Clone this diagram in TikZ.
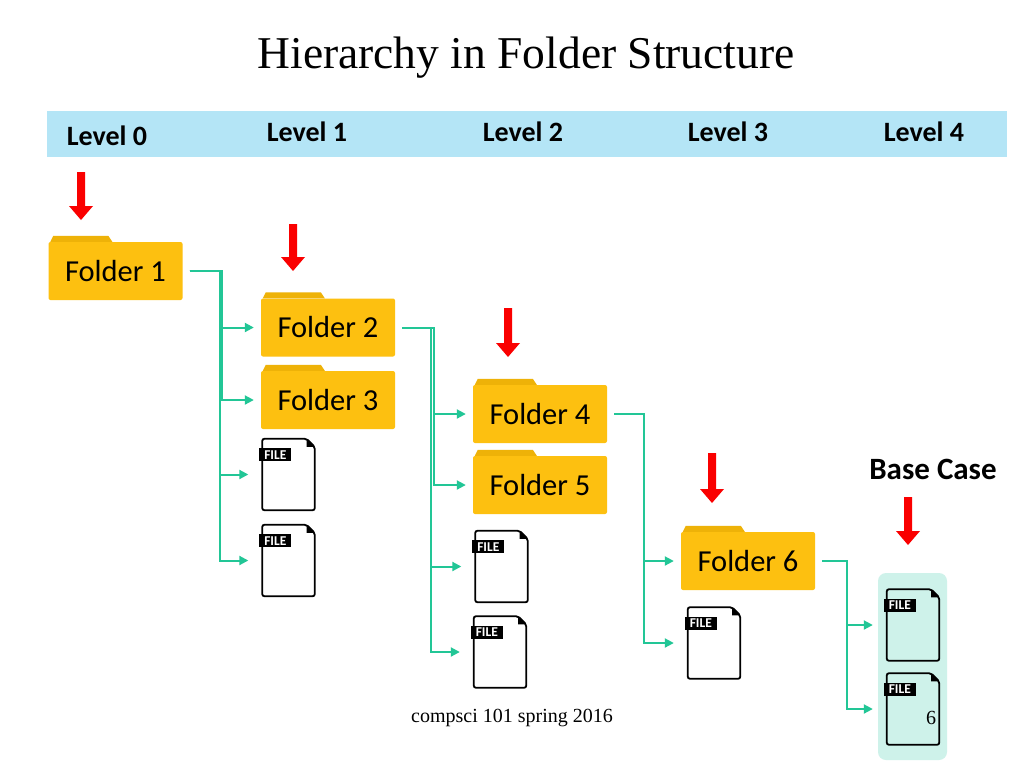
\documentclass[tikz,border=0pt]{standalone}
\usepackage{fontspec}
\setmainfont{Liberation Serif}
\newfontfamily\calfont{Carlito}
\usetikzlibrary{arrows.meta,calc}
\definecolor{folderc}{RGB}{253,192,16}
\definecolor{tabc}{RGB}{238,178,8}
\definecolor{bandc}{RGB}{180,229,246}
\definecolor{connc}{RGB}{34,198,150}
\definecolor{basec}{RGB}{206,242,234}
\definecolor{arrc}{RGB}{250,0,0}
\tikzset{
  folder/.style={rectangle, fill=folderc, rounded corners=2pt, minimum width=134pt, minimum height=58pt, inner sep=0pt, font=\calfont\fontsize{30.5}{30.5}\selectfont},
  fileicon/.style={rectangle, minimum width=52pt, minimum height=71pt, inner sep=0pt},
  filelabel/.style={fill=black, text=white, inner sep=0pt, minimum width=32pt, minimum height=13pt, font=\calfont\bfseries\fontsize{13.5}{13.5}\selectfont},
  level/.style={font=\calfont\bfseries\fontsize{28}{28}\selectfont, inner sep=0pt},
  conn/.style={draw=connc, line width=2pt, shorten <=7pt, -{Triangle[length=9pt,width=9pt]}},
  tofolder/.style={shorten >=7pt},
  tofile/.style={shorten >=14pt},
}
\newcommand{\mkfolder}[4]{%
  \node[folder] (#1) at (#2,#3) {#4};
  \fill[tabc] ([xshift=2pt]#1.north west) -- ++(3,-6) -- ++(55,0) -- ++(4,6) -- cycle;
}
\newcommand{\mkfile}[3]{%
  \node[fileicon] (#1) at (#2,#3) {};
  \fill[black] ([xshift=-8pt]#1.north east) -- ([xshift=-8pt,yshift=-8pt]#1.north east) -- ([yshift=-8pt]#1.north east) -- cycle;
  \draw[line width=1.8pt, rounded corners=2pt] ([xshift=-8pt]#1.north east) -- (#1.north west) -- (#1.south west) -- (#1.south east) -- ([yshift=-8pt]#1.north east) -- cycle;
  \node[filelabel] (#1l) at ([xshift=13pt,yshift=-16pt]#1.north west) {FILE};
}
\newcommand{\redarrow}[3]{%
  \fill[arrc] (#1-4,#2) -- (#1+4,#2) -- (#1+4,#3-14) -- (#1+12,#3-14) -- (#1,#3) -- (#1-12,#3-14) -- (#1-4,#3-14) -- cycle;
}
\begin{document}
\begin{tikzpicture}[x=1pt,y=-1pt]
\useasboundingbox (0,0) rectangle (1024,768);
\fill[white] (0,0) rectangle (1024,768);
% title
\node[font=\fontsize{45.5}{45.5}\selectfont, inner sep=0pt] (title) at (526,58) {Hierarchy in Folder Structure};
% level band
\fill[bandc] (47,111) rectangle (1007,157);
\node[level] (l0) at (107,136) {Level 0};
\node[level] (l1) at (307,132) {Level 1};
\node[level] (l2) at (523,132) {Level 2};
\node[level] (l3) at (728,132) {Level 3};
\node[level] (l4) at (924,132) {Level 4};
% red arrows
\redarrow{81}{172}{220}
\redarrow{293}{224}{271}
\redarrow{508}{308}{357}
\redarrow{712}{453}{503}
\redarrow{908}{497}{545}
% base case
\node[font=\calfont\bfseries\fontsize{31}{31}\selectfont, inner sep=0pt] (base) at (933,469) {Base Case};
\fill[basec, rounded corners=8pt] (878,573) rectangle (947,760);
% folders
\mkfolder{f1}{115.5}{271}{Folder 1}
\mkfolder{f2}{328}{327.5}{Folder 2}
\mkfolder{f3}{328}{400}{Folder 3}
\mkfolder{f4}{540}{414}{Folder 4}
\mkfolder{f5}{540}{485}{Folder 5}
\mkfolder{f6}{748}{561}{Folder 6}
% files
\mkfile{a1}{288.5}{474.5}
\mkfile{a2}{288.5}{560.5}
\mkfile{b1}{501.5}{566.5}
\mkfile{b2}{500}{652}
\mkfile{c1}{714}{643}
\mkfile{d1}{913}{625}
\mkfile{d2}{913}{709}
% connectors level 0 -> 1
\draw[conn,tofolder] (f1.east) -- ([xshift=39.5pt]f1.east) |- (f2.west);
\draw[conn,tofolder] (f1.east) -- ([xshift=39.5pt]f1.east) |- (f3.west);
\draw[conn,tofile] (f1.east) -- ([xshift=37pt]f1.east) |- (a1.west);
\draw[conn,tofile] (f1.east) -- ([xshift=37pt]f1.east) |- (a2.west);
% level 1 -> 2
\draw[conn,tofolder] (f2.east) -- ([xshift=39pt]f2.east) |- (f4.west);
\draw[conn,tofolder] (f2.east) -- ([xshift=39pt]f2.east) |- (f5.west);
\draw[conn,tofile] (f2.east) -- ([xshift=36pt]f2.east) |- (b1.west);
\draw[conn,tofile] (f2.east) -- ([xshift=36pt]f2.east) |- (b2.west);
% level 2 -> 3
\draw[conn,tofolder] (f4.east) -- ([xshift=37pt]f4.east) |- (f6.west);
\draw[conn,tofile] (f4.east) -- ([xshift=37pt]f4.east) |- (c1.west);
% level 3 -> 4
\draw[conn,tofile] (f6.east) -- ([xshift=32pt]f6.east) |- (d1.west);
\draw[conn,tofile] (f6.east) -- ([xshift=32pt]f6.east) |- (d2.west);
% footer
\node[font=\fontsize{20}{20}\selectfont, inner sep=0pt] (foot) at (512,718) {compsci 101 spring 2016};
\node[font=\fontsize{20}{20}\selectfont, inner sep=0pt] (pnum) at (931,718) {6};
\end{tikzpicture}
\end{document}
